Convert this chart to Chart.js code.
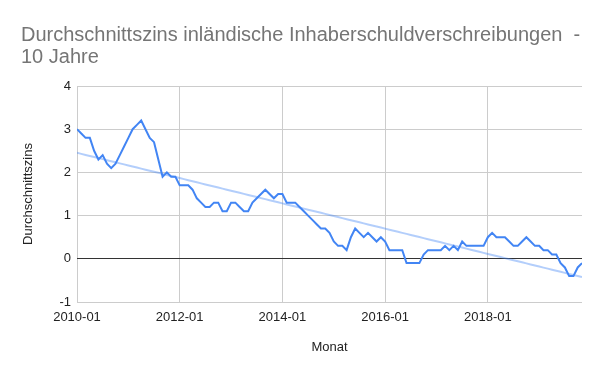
<!DOCTYPE html>
<html>
<head>
<meta charset="utf-8">
<script src="https://cdn.jsdelivr.net/npm/chart.js@4/dist/chart.umd.min.js"></script>
<style>
  html, body { margin: 0; padding: 0; background: #fff; }
  #wrap { width: 600px; height: 371px; }
</style>
</head>
<body>
<div id="wrap"><canvas id="c" width="600" height="371"></canvas></div>
<script>
// ---- data ----
const titleLines = ['Durchschnittszins inländische Inhaberschuldverschreibungen  -', '10 Jahre'];
const xAxisTitle = 'Monat';
const yAxisTitle = 'Durchschnittszins';

const months = [];
for (let y = 2010; y <= 2019; y++) {
  for (let m = 1; m <= 12; m++) {
    if (y === 2019 && m > 11) break;
    months.push(y + '-' + String(m).padStart(2, '0'));
  }
}

const rates2010 = [3.0, 2.9, 2.8, 2.8, 2.5, 2.3, 2.4, 2.2, 2.1, 2.2, 2.4, 2.6];
const rates2011 = [2.8, 3.0, 3.1, 3.2, 3.0, 2.8, 2.7, 2.3, 1.9, 2.0, 1.9, 1.9];
const rates2012 = [1.7, 1.7, 1.7, 1.6, 1.4, 1.3, 1.2, 1.2, 1.3, 1.3, 1.1, 1.1];
const rates2013 = [1.3, 1.3, 1.2, 1.1, 1.1, 1.3, 1.4, 1.5, 1.6, 1.5, 1.4, 1.5];
const rates2014 = [1.5, 1.3, 1.3, 1.3, 1.2, 1.1, 1.0, 0.9, 0.8, 0.7, 0.7, 0.6];
const rates2015 = [0.4, 0.3, 0.3, 0.2, 0.5, 0.7, 0.6, 0.5, 0.6, 0.5, 0.4, 0.5];
const rates2016 = [0.4, 0.2, 0.2, 0.2, 0.2, -0.1, -0.1, -0.1, -0.1, 0.1, 0.2, 0.2];
const rates2017 = [0.2, 0.2, 0.3, 0.2, 0.3, 0.2, 0.4, 0.3, 0.3, 0.3, 0.3, 0.3];
const rates2018 = [0.5, 0.6, 0.5, 0.5, 0.5, 0.4, 0.3, 0.3, 0.4, 0.5, 0.4, 0.3];
const rates2019 = [0.3, 0.2, 0.2, 0.1, 0.1, -0.1, -0.2, -0.4, -0.4, -0.2, -0.1];
const rates = [].concat(rates2010, rates2011, rates2012, rates2013, rates2014,
                        rates2015, rates2016, rates2017, rates2018, rates2019);

const xTickLabels = ['2010-01', '2012-01', '2014-01', '2016-01', '2018-01'];
const yTicks = [-1, 0, 1, 2, 3, 4];

// linear trendline (least squares over month index)
const n = rates.length;
let sx = 0, sy = 0, sxx = 0, sxy = 0;
rates.forEach((v, i) => { sx += i; sy += v; sxx += i * i; sxy += i * v; });
const slope = (n * sxy - sx * sy) / (n * sxx - sx * sx);
const icpt = (sy - slope * sx) / n;
const trend = rates.map((v, i) => icpt + slope * i);

// ---- chart ----
const FONT = '"Liberation Sans", Arial, sans-serif';
const ctx = document.getElementById('c').getContext('2d');
new Chart(ctx, {
  type: 'line',
  data: {
    datasets: [
      {
        label: 'Durchschnittszins',
        data: rates.map((v, i) => ({ x: i, y: v })),
        borderColor: '#4285f4',
        borderWidth: 2,
        pointRadius: 0,
        tension: 0,
        order: 1
      },
      {
        label: 'Trend',
        data: trend.map((v, i) => ({ x: i, y: v })),
        borderColor: 'rgba(66,133,244,0.4)',
        borderWidth: 2,
        pointRadius: 0,
        tension: 0,
        order: 2
      }
    ]
  },
  options: {
    responsive: false,
    animation: false,
    devicePixelRatio: 1,
    layout: { padding: { left: 21, right: 18, top: 0, bottom: 0 } },
    plugins: {
      legend: { display: false },
      tooltip: { enabled: false },
      title: {
        display: true,
        text: titleLines,
        align: 'start',
        color: '#757575',
        font: { family: FONT, size: 20, weight: 'normal', lineHeight: '22px' },
        padding: { top: 24, bottom: 18 }
      }
    },
    scales: {
      x: {
        type: 'linear',
        min: 0,
        max: months.length - 1,
        afterBuildTicks: (axis) => {
          axis.ticks = xTickLabels.map(l => ({ value: months.indexOf(l) }));
        },
        afterFit: (axis) => { axis.height = 69; },
        ticks: {
          autoSkip: false,
          maxRotation: 0,
          padding: 8,
          color: '#222',
          font: { family: FONT, size: 13 },
          callback: (v) => months[v]
        },
        grid: { color: '#cccccc', drawTicks: false, lineWidth: 1 },
        border: { display: false },
        title: {
          display: true,
          text: xAxisTitle,
          color: '#222',
          font: { family: FONT, size: 13 },
          padding: { top: 0, bottom: 16 }
        }
      },
      y: {
        min: -1,
        max: 4,
        afterBuildTicks: (axis) => {
          axis.ticks = yTicks.map(v => ({ value: v }));
        },
        afterFit: (axis) => { axis.width = 56; },
        ticks: {
          padding: 6,
          color: '#222',
          font: { family: FONT, size: 13 }
        },
        grid: {
          drawTicks: false,
          color: (c) => (c.tick && c.tick.value === 0) ? '#333333' : '#cccccc',
          lineWidth: 1
        },
        border: { display: false },
        title: {
          display: true,
          text: yAxisTitle,
          color: '#222',
          font: { family: FONT, size: 13 },
          padding: { top: 0, bottom: 0 }
        }
      }
    }
  }
});
</script>
</body>
</html>
